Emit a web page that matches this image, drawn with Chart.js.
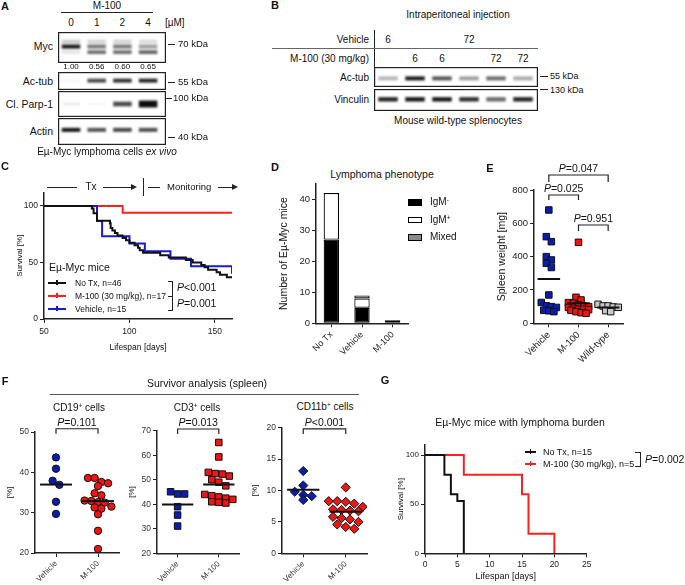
<!DOCTYPE html>
<html>
<head>
<meta charset="utf-8">
<script src="https://cdn.jsdelivr.net/npm/chart.js@4.4.1/dist/chart.umd.min.js"></script>
<style>
  body { margin: 0; background: #fff; }
  #fig { position: relative; width: 685px; height: 585px; overflow: hidden; font-family: 'Liberation Sans', Arial, sans-serif; color: #111; }
  #fig canvas { position: absolute; }
  .t { position: absolute; white-space: nowrap; line-height: 1; }
  .r { position: absolute; background: #222; }
  sup { font-size: 0.65em; vertical-align: 0.5em; line-height: 0; }
</style>
</head>
<body>
<div id="fig"></div>
<script>
// ---- A: blot, M-100 dose series (band intensity 0..1) ----
const doseLabels = ['0', '1', '2', '4'];
const mycRatio = ['1.00', '0.56', '0.60', '0.65'];
const mycUpper = [0.22, 0.18, 0.18, 0.15];
const mycMain = [0.95, 0.55, 0.55, 0.4];
const mycLower = [0.1, 0.6, 0.6, 0.65];
const acTubA = [0.03, 0.75, 0.85, 0.9];
const parpA = [0.1, 0.05, 0.75, 1.0];
const actinA = [0.95, 0.7, 0.75, 0.72];

// ---- B: blot, splenocytes ----
const hoursVehicle = ['6', '', '', '72', '', ''];
const hoursM100 = ['', '6', '6', '', '72', '72'];
const acTubB = [0.3, 0.95, 0.7, 0.4, 0.6, 0.35];
const vinculinB = [0.9, 0.95, 0.95, 0.85, 0.6, 0.9];

// ---- C: Kaplan-Meier, days / survival % ----
const noTxDays = [50, 78, 79, 81, 88.6, 89, 90, 91.5, 93, 96, 98, 100, 103, 105, 106, 108, 118, 123, 133, 137, 142, 144, 146, 151, 153, 157, 160];
const noTxSurv = [100, 97.8, 93.5, 87.0, 84.8, 80.4, 78.3, 76.1, 73.9, 71.7, 69.6, 67.4, 65.2, 63.0, 60.9, 58.7, 56.5, 54.3, 52.2, 50.0, 47.8, 45.7, 43.5, 41.3, 39.1, 37.0, 37.0];
const vehDays = [50, 81, 84, 100, 109, 124, 136, 160, 160];
const vehSurv = [100, 86.7, 73.3, 66.7, 60, 53.3, 46.7, 46.7, 40];
const m100Days = [50, 96, 160];
const m100Surv = [100, 94.1, 94.1];
const survTicksC = [0, 50, 100];
const daysTicksC = [50, 100, 150];

// ---- D: lymphoma phenotype counts ----
const phenoGroups = ['No Tx', 'Vehicle', 'M-100'];
const igmNeg = [27, 5, 1];
const igmPos = [15, 3, 0];
const mixed = [0, 1, 0];
const countTicks = [0, 10, 20, 30, 40];

// ---- E: spleen weight [mg] ----
const spleenGroups = ['Vehicle', 'M-100', 'Wild-type'];
const spleenVehicle = [680, 520, 490, 400, 380, 360, 335, 170, 125, 105, 100, 95, 78, 75, 70];
const spleenM100 = [486, 156, 140, 124, 120, 110, 104, 100, 95, 90, 84, 84, 82, 78, 70, 64, 60];
const spleenWT = [114, 104, 104, 98, 96, 76, 70];
const weightTicks = [0, 200, 400, 600, 800];

// ---- F: survivor analysis [%] ----
const cellGroups = ['Vehicle', 'M-100'];
const cd19Vehicle = [43.7, 40.9, 37.9, 36.9, 32.7, 29.7];
const cd19M100 = [38.6, 38.6, 37.6, 37.3, 36.6, 34.8, 34.3, 33.0, 32.9, 32.6, 32.5, 31.5, 31.3, 31.0, 29.6, 25.5, 21.0];
const cd3Vehicle = [45.1, 44.2, 44.2, 39.0, 35.6, 31.1];
const cd3M100 = [65.2, 59.3, 53.0, 52.5, 52.3, 51.5, 50.0, 49.0, 47.5, 44.0, 43.5, 43.0, 42.5, 42.0, 41.0, 40.8, 40.5];
const cd11bVehicle = [13.1, 10.8, 9.8, 9.3, 9.1, 8.5];
const cd11bM100 = [10.5, 8.3, 8.3, 8.2, 7.9, 7.4, 7.0, 6.9, 6.8, 6.7, 5.8, 5.6, 5.4, 5.0, 4.6, 4.2, 3.9];
const cd19Ticks = [20, 30, 40, 50];
const cd3Ticks = [20, 30, 40, 50, 60, 70];
const cd11bTicks = [0, 5, 10, 15, 20];

// ---- G: mice with lymphoma burden ----
const burdenNoTxDays = [0, 3, 4, 5, 6];
const burdenNoTxSurv = [100, 80, 60, 53.3, 0];
const burdenM100Days = [0, 6, 15, 16, 20];
const burdenM100Surv = [100, 80, 60, 20, 0];
const survTicksG = [0, 50, 100];
const daysTicksG = [0, 5, 10, 15, 20, 25];

const FONT = "'Liberation Sans', Arial, sans-serif";
const BLUE = '#0b1db0', RED = '#f01414', KMBLUE = '#1a1ad6', KMRED = '#ff1f1f';
Chart.defaults.font.family = FONT;
Chart.defaults.color = '#222';
Chart.defaults.animation = false;

const fig = document.getElementById('fig');

function canvasAt(left, top, w, h) {
  const c = document.createElement('canvas');
  c.width = w; c.height = h;
  c.style.left = left + 'px'; c.style.top = top + 'px';
  c.style.width = w + 'px'; c.style.height = h + 'px';
  fig.appendChild(c);
  return c.getContext('2d');
}

function text(x, y, html, o = {}) {
  const d = document.createElement('div');
  d.className = 't';
  d.innerHTML = html;
  const tx = o.align === 'r' ? '-100%' : o.align === 'l' ? '0' : '-50%';
  d.style.left = x + 'px';
  d.style.top = y + 'px';
  d.style.fontSize = (o.size || 10) + 'px';
  if (o.bold) d.style.fontWeight = 'bold';
  if (o.color) d.style.color = o.color;
  d.style.transform = `translate(${tx},-50%)`;
  fig.appendChild(d);
}

function rule(x, y, w, h, color) {
  const d = document.createElement('div');
  d.className = 'r';
  d.style.cssText = `left:${x}px;top:${y}px;width:${w}px;height:${h}px;` + (color ? `background:${color};` : '');
  fig.appendChild(d);
  return d;
}

function arrowHead(x, y) {
  const d = document.createElement('div');
  d.style.cssText = `position:absolute;left:${x - 6}px;top:${y - 3}px;width:0;height:0;border-left:6px solid #222;border-top:3px solid transparent;border-bottom:3px solid transparent;`;
  fig.appendChild(d);
}

function legendLine(x1, x2, y, color) {
  rule(x1, y - 1, x2 - x1, 2, color);
  rule((x1 + x2) / 2 - 0.75, y - 3, 1.5, 5, color);
}

// axis with a fixed box size so the plot area lands where the figure has it
function axis(o) {
  const a = {
    type: o.type || 'linear',
    afterFit: s => { if (s.isHorizontal()) s.height = o.size; else s.width = o.size; },
    grid: { drawOnChartArea: false, drawTicks: true, tickLength: 4, color: '#222', lineWidth: 1, offset: false },
    border: { color: '#222', width: 1.5 },
    ticks: { padding: o.pad ?? 2, color: o.color || '#222', font: { size: o.fs || 9 }, autoSkip: false, maxRotation: o.rot || 0, minRotation: o.rot || 0 }
  };
  if (o.min !== undefined) a.min = o.min;
  if (o.max !== undefined) a.max = o.max;
  if (o.ticks) a.afterBuildTicks = s => { s.ticks = o.ticks.map(v => ({ value: v })); };
  if (o.labels) a.ticks.callback = v => o.labels[v];
  if (o.hideLabels) a.ticks.display = false;
  if (o.title) a.title = { display: true, text: o.title, color: '#111', font: { size: o.tfs || 9 }, padding: o.tpad };
  return a;
}

const baseOpts = {
  responsive: false, animation: false, devicePixelRatio: 1,
  plugins: { legend: { display: false }, tooltip: { enabled: false } }
};

// blot helpers
const soften = {
  id: 'soften',
  beforeDatasetsDraw(c) { c.ctx.save(); c.ctx.filter = 'blur(0.8px)'; },
  afterDatasetsDraw(c) { c.ctx.restore(); }
};
const frame = {
  id: 'frame',
  afterDraw(c) {
    const g = c.ctx;
    g.save(); g.strokeStyle = '#222'; g.lineWidth = 1.2;
    g.strokeRect(0.6, 0.6, c.width - 1.2, c.height - 1.2);
    g.restore();
  }
};

// lanes on a category axis; first = centre of lane 0 in px, gap = lane spacing in px
function blot(left, top, w, h, first, gap, lanes, bands) {
  const padL = first - gap / 2;
  const padR = w - padL - lanes.length * gap;
  new Chart(canvasAt(left, top, w, h), {
    type: 'bar',
    data: {
      labels: lanes,
      datasets: bands.map(b => ({
        data: b.vals.map(v => {
          const half = b.half * (b.grow ? 0.6 + 1.6 * v * v : 1);
          return [b.at - half, b.at + half];
        }),
        backgroundColor: b.vals.map(v => `rgba(12,12,12,${v})`),
        grouped: false, barPercentage: 0.72, categoryPercentage: 1, borderWidth: 0
      }))
    },
    options: {
      ...baseOpts,
      layout: { padding: { left: padL, right: padR, top: 0, bottom: 0 } },
      scales: {
        x: { type: 'category', display: false, offset: true },
        y: { display: false, min: 0, max: 1, reverse: true }
      }
    },
    plugins: [soften, frame]
  });
}

// ---------------- Panel A ----------------
const laneA = i => 71 + 25.7 * i;
text(5, 6, 'A', { bold: true, size: 11 });
text(107, 6, 'M-100', { size: 10 });
rule(61, 12, 92, 1);
doseLabels.forEach((d, i) => text(laneA(i), 23, d, { size: 10 }));
text(165, 23, '[µM]', { size: 10, align: 'l' });

blot(58, 32, 108, 31, 13, 25.7, doseLabels, [
  { vals: mycUpper, at: 0.31, half: 0.06 },
  { vals: mycMain, at: 0.47, half: 0.065 },
  { vals: mycLower, at: 0.65, half: 0.06 }
]);
blot(58, 72, 108, 18, 13, 25.7, doseLabels, [{ vals: acTubA, at: 0.48, half: 0.11 }]);
blot(58, 91, 108, 26, 13, 25.7, doseLabels, [{ vals: parpA, at: 0.5, half: 0.06, grow: true }]);
blot(58, 118, 108, 27, 13, 25.7, doseLabels, [{ vals: actinA, at: 0.44, half: 0.075 }]);

text(53, 46, 'Myc', { size: 10.5, align: 'r' });
text(53, 81, 'Ac-tub', { size: 10.5, align: 'r' });
text(53, 104, 'Cl. Parp-1', { size: 10.5, align: 'r' });
text(53, 131, 'Actin', { size: 10.5, align: 'r' });
mycRatio.forEach((r, i) => text(laneA(i), 67, r, { size: 8 }));
[[44, '70 kDa'], [82, '55 kDa'], [137, '40 kDa']].forEach(([y, s]) => {
  rule(168, y, 7, 1.2);
  text(178, y, s, { size: 9.5, align: 'l' });
});
rule(166, 98, 6, 1.2);
text(173, 98, '100 kDa', { size: 9.5, align: 'l' });
text(107, 152, 'Eµ-Myc lymphoma cells <i>ex vivo</i>', { size: 10 });

// ---------------- Panel B ----------------
const laneB = i => 388 + 27 * i;
const lanesB = hoursVehicle.map((h, i) => 'lane' + i);
text(275, 5, 'B', { bold: true, size: 11 });
text(458, 15, 'Intraperitoneal injection', { size: 10 });
rule(373.5, 30, 1.2, 37);
rule(272, 48, 266, 1.2, '#666');
text(369, 40, 'Vehicle', { size: 10, align: 'r' });
text(369, 59, 'M-100 (30 mg/kg)', { size: 10, align: 'r' });
hoursVehicle.forEach((h, i) => { if (h) text(laneB(i), 40, h, { size: 10 }); });
hoursM100.forEach((h, i) => { if (h) text(laneB(i), 59, h, { size: 10 }); });
blot(374, 67, 164, 20, 14, 27, lanesB, [{ vals: acTubB, at: 0.57, half: 0.1 }]);
blot(374, 89, 164, 22, 14, 27, lanesB, [{ vals: vinculinB, at: 0.47, half: 0.1 }]);
text(369, 78, 'Ac-tub', { size: 10, align: 'r' });
text(369, 100, 'Vinculin', { size: 10, align: 'r' });
rule(540, 76, 8, 1.2);
text(550, 76, '55 kDa', { size: 9, align: 'l' });
rule(540, 89, 8, 1.2);
text(550, 90, '130 kDa', { size: 9, align: 'l' });
text(458, 121, 'Mouse wild-type splenocytes', { size: 10 });

// ---------------- Panel C ----------------
text(5, 166, 'C', { bold: true, size: 11 });
rule(47, 186.5, 30, 1.2);
text(91, 187, 'Tx', { size: 10 });
rule(103, 186.5, 30, 1.2);
arrowHead(137, 187);
rule(143, 178, 1.2, 18);
rule(148, 186.5, 12, 1.2);
text(167, 187, 'Monitoring', { size: 9.5, align: 'l' });
rule(218, 186.5, 14, 1.2);
arrowHead(238, 187);

function kmSet(xs, ys, color, order) {
  return { data: xs.map((x, i) => ({ x, y: ys[i] })), borderColor: color, borderWidth: 2, stepped: true, pointRadius: 0, fill: false, order };
}

new Chart(canvasAt(0, 180, 240, 180), {
  type: 'line',
  data: { datasets: [kmSet(noTxDays, noTxSurv, '#111', 0), kmSet(vehDays, vehSurv, KMBLUE, 1), kmSet(m100Days, m100Surv, KMRED, 2)] },
  options: {
    ...baseOpts,
    layout: { padding: { top: 12.4, right: 8, left: 0, bottom: 0 } },
    scales: {
      x: axis({ min: 50, max: 160, ticks: daysTicksC, size: 41, fs: 8.5, pad: 4, title: 'Lifespan [days]', tfs: 8.5, tpad: { top: 0, bottom: 6.9 } }),
      y: axis({ min: 0, max: 112, ticks: survTicksC, size: 44, fs: 8.5, title: 'Survival [%]', tfs: 8, tpad: { top: 15.2, bottom: 0 } })
    }
  }
});
text(49, 267, 'Eµ-Myc mice', { size: 10.5, align: 'l' });
legendLine(48, 66, 283, '#111');
legendLine(48, 66, 296, KMRED);
legendLine(48, 66, 309, KMBLUE);
text(75, 283, 'No Tx, n=46', { size: 8.5, align: 'l' });
text(75, 296, 'M-100 (30 mg/kg), n=17', { size: 8.5, align: 'l' });
text(75, 309, 'Vehicle, n=15', { size: 8.5, align: 'l' });
rule(168, 280.5, 5, 1.2);
rule(172, 280.5, 1.2, 30);
rule(168, 309.5, 5, 1.2);
rule(168, 295.5, 5, 1.2);
text(177, 287, '<i>P</i>&lt;0.001', { size: 10.5, align: 'l' });
text(177, 303, '<i>P</i>=0.001', { size: 10.5, align: 'l' });

// ---------------- Panel D ----------------
// stacked segments as floating bars: each segment starts where the previous one ends
text(275, 167, 'D', { bold: true, size: 11 });
text(382, 174, 'Lymphoma phenotype', { size: 10.5 });
const stackBase = phenoGroups.map(() => 0);
const phenoSets = [[igmNeg, '#000'], [igmPos, '#fff'], [mixed, '#8a8a8a']].map(([vals, color]) => ({
  data: vals.map((v, i) => {
    const lo = stackBase[i];
    stackBase[i] += v;
    return v ? [lo, lo + v] : null;
  }),
  backgroundColor: color, borderColor: '#000', borderWidth: 1.2, borderSkipped: false,
  grouped: false, barPercentage: 0.5, categoryPercentage: 1
}));
const dLeft = 240, dTop = 175;
const phenoChart = new Chart(canvasAt(dLeft, dTop, 180, 198), {
  type: 'bar',
  data: { labels: phenoGroups, datasets: phenoSets },
  options: {
    ...baseOpts,
    layout: { padding: { top: 8.8, right: 12, left: 0, bottom: 0 } },
    scales: {
      x: axis({ type: 'category', size: 49.7, fs: 9, rot: 45 }),
      y: axis({ min: 0, max: 45, ticks: countTicks, size: 76, fs: 9.5, hideLabels: true, title: 'Number of Eµ-Myc mice', tfs: 10.5, tpad: { top: 37.7, bottom: 0 } })
    }
  }
});
// count tick labels placed from the chart's own y scale
const countScale = phenoChart.scales.y;
countScale.ticks.forEach(t => {
  text(dLeft + countScale.right - 6, dTop + countScale.getPixelForValue(t.value), String(t.value), { size: 9.5, align: 'r', color: '#222' });
});
[['#000', 'IgM<sup>-</sup>'], ['#fff', 'IgM<sup>+</sup>'], ['#8a8a8a', 'Mixed']].forEach(([c, s], i) => {
  const y = 202 + 17.5 * i;
  const d = rule(408, y - 3, 12, 4.5, c);
  d.style.border = '1.2px solid #000';
  text(430, y, s, { size: 10, align: 'l' });
});

// ---------------- dot plots (E, F) ----------------
// rows of near-equal values are spread sideways, centred on the group
function swarm(values, center, gap, step, perRow) {
  const sorted = [...values].sort((a, b) => b - a);
  const rows = [];
  sorted.forEach(v => {
    const row = rows[rows.length - 1];
    if (row && row[0] - v < gap && row.length < perRow) row.push(v);
    else rows.push([v]);
  });
  const pts = [];
  rows.forEach(row => row.forEach((v, j) => pts.push({ x: center + (j - (row.length - 1) / 2) * step, y: v })));
  return pts;
}

function pLabel(ctx, label, cx, cy, size) {
  const rest = label.slice(1);
  ctx.font = `italic ${size}px ${FONT}`;
  const w1 = ctx.measureText('P').width;
  ctx.font = `${size}px ${FONT}`;
  const w2 = ctx.measureText(rest).width;
  const x = cx - (w1 + w2) / 2;
  ctx.textBaseline = 'middle'; ctx.textAlign = 'left'; ctx.fillStyle = '#111';
  ctx.font = `italic ${size}px ${FONT}`;
  ctx.fillText('P', x, cy);
  ctx.font = `${size}px ${FONT}`;
  ctx.fillText(rest, x + w1, cy);
}

function bracketPlugin(items) {
  return {
    id: 'brackets',
    afterDraw(chart) {
      const { ctx, scales: { x, y } } = chart;
      items.forEach(b => {
        const x1 = x.getPixelForValue(b.from), x2 = x.getPixelForValue(b.to), yp = y.getPixelForValue(b.y);
        ctx.save();
        ctx.strokeStyle = '#222'; ctx.lineWidth = 1.2;
        ctx.beginPath();
        ctx.moveTo(x1, yp + b.drop); ctx.lineTo(x1, yp); ctx.lineTo(x2, yp); ctx.lineTo(x2, yp + b.drop);
        ctx.stroke();
        pLabel(ctx, b.label, (x1 + x2) / 2, yp - 6, 10.5);
        ctx.restore();
      });
    }
  };
}

function dotPlot(ctx, c) {
  const datasets = [];
  c.series.forEach((s, i) => {
    datasets.push({
      data: swarm(s.values, i, c.gap, c.step, c.perRow),
      backgroundColor: s.color, borderColor: '#111', borderWidth: 1,
      pointStyle: c.pointStyle, pointRadius: c.radius, order: 1
    });
    const m = s.values.reduce((a, b) => a + b, 0) / s.values.length;
    datasets.push({
      data: [{ x: i - 0.38, y: m }, { x: i + 0.38, y: m }],
      showLine: true, borderColor: '#111', borderWidth: 2, pointRadius: 0, order: 0
    });
  });
  new Chart(ctx, {
    type: 'scatter',
    data: { datasets },
    options: {
      ...baseOpts,
      layout: { padding: { top: c.padT, right: c.padR, left: 0, bottom: 0 } },
      scales: {
        x: axis({ min: -0.5, max: c.groups.length - 0.5, ticks: c.groups.map((g, i) => i), labels: c.groups, size: c.xH, fs: c.xfs, rot: 45, color: c.color }),
        y: axis({ min: c.yMin, max: c.yMax, ticks: c.yTicks, size: c.yW, fs: c.yfs, color: c.color, title: c.yTitle, tfs: c.tfs, tpad: { top: c.tpad, bottom: 0 } })
      }
    },
    plugins: [bracketPlugin(c.brackets)]
  });
}

// ---------------- Panel E ----------------
text(490, 168, 'E', { bold: true, size: 11 });
dotPlot(canvasAt(460, 160, 180, 213), {
  groups: spleenGroups,
  series: [{ values: spleenVehicle, color: BLUE }, { values: spleenM100, color: RED }, { values: spleenWT, color: '#c8c8c8' }],
  pointStyle: 'rect', radius: 4.6, gap: 32, step: 0.17, perRow: 5,
  yMin: 0, yMax: 800, yTicks: weightTicks,
  padT: 30, padR: 17, yW: 74, xH: 49.7, xfs: 9.5, yfs: 9.5,
  yTitle: 'Spleen weight [mg]', tfs: 10.5, tpad: 35.7,
  brackets: [
    { from: 0, to: 1, y: 770, drop: 5, label: 'P=0.025' },
    { from: 0, to: 2, y: 890, drop: 7, label: 'P=0.047' },
    { from: 1, to: 2, y: 590, drop: 6, label: 'P=0.951' }
  ]
});

// ---------------- Panel F ----------------
text(5, 381, 'F', { bold: true, size: 11 });
text(207, 383, 'Survivor analysis (spleen)', { size: 10.5 });
rule(50, 393.5, 309, 1.5, '#555');
text(79, 408, 'CD19<sup>+</sup> cells', { size: 10 });
text(197, 408, 'CD3<sup>+</sup> cells', { size: 10 });
text(325, 407, 'CD11b<sup>+</sup> cells', { size: 10 });

dotPlot(canvasAt(0, 410, 125, 175), {
  groups: cellGroups,
  series: [{ values: cd19Vehicle, color: BLUE }, { values: cd19M100, color: RED }],
  pointStyle: 'circle', radius: 3.7, gap: 1.6, step: 0.16, perRow: 5,
  yMin: 20, yMax: 50, yTicks: cd19Ticks,
  padT: 22, padR: 6, yW: 35, xH: 32, xfs: 8, yfs: 8.5, color: '#333',
  yTitle: '[%]', tfs: 8, tpad: 5.2,
  brackets: [{ from: 0, to: 1, y: 50.8, drop: 5, label: 'P=0.101' }]
});
dotPlot(canvasAt(125, 410, 120, 175), {
  groups: cellGroups,
  series: [{ values: cd3Vehicle, color: BLUE }, { values: cd3M100, color: RED }],
  pointStyle: 'rect', radius: 4.6, gap: 2.6, step: 0.17, perRow: 5,
  yMin: 20, yMax: 70, yTicks: cd3Ticks,
  padT: 20.7, padR: 3, yW: 32, xH: 31.7, xfs: 8, yfs: 8.5, color: '#333',
  yTitle: '[%]', tfs: 8, tpad: 2.2,
  brackets: [{ from: 0, to: 1, y: 70.7, drop: 5, label: 'P=0.013' }]
});
dotPlot(canvasAt(245, 410, 130, 175), {
  groups: cellGroups,
  series: [{ values: cd11bVehicle, color: BLUE }, { values: cd11bM100, color: RED }],
  pointStyle: 'rectRot', radius: 4.6, gap: 1.0, step: 0.2, perRow: 5,
  yMin: 0, yMax: 20, yTicks: cd11bTicks,
  padT: 17.7, padR: 8, yW: 37, xH: 31.7, xfs: 8, yfs: 8.5, color: '#333',
  yTitle: '[%]', tfs: 8, tpad: 5.2,
  brackets: [{ from: 0, to: 1, y: 19.8, drop: 5, label: 'P<0.001' }]
});

// ---------------- Panel G ----------------
text(385, 380, 'G', { bold: true, size: 11 });
text(520, 422, 'Eµ-Myc mice with lymphoma burden', { size: 10.5 });
new Chart(canvasAt(380, 430, 220, 155), {
  type: 'line',
  data: { datasets: [kmSet(burdenNoTxDays, burdenNoTxSurv, '#111', 0), kmSet(burdenM100Days, burdenM100Surv, KMRED, 1)] },
  options: {
    ...baseOpts,
    layout: { padding: { top: 15.2, right: 13.3, left: 0, bottom: 0 } },
    scales: {
      x: axis({ min: 0, max: 25, ticks: daysTicksG, size: 31.7, fs: 8.5, title: 'Lifespan [days]', tfs: 9, tpad: { top: 0, bottom: 2.6 } }),
      y: axis({ min: 0, max: 110, ticks: survTicksG, size: 45, fs: 8, title: 'Survival [%]', tfs: 8, tpad: { top: 16.2, bottom: 0 } })
    }
  }
});
legendLine(525, 536, 452, '#111');
legendLine(525, 536, 464, KMRED);
text(543, 452, 'No Tx, n=15', { size: 9, align: 'l' });
text(543, 464, 'M-100 (30 mg/kg), n=5', { size: 9, align: 'l' });
rule(635, 451.5, 5, 1.2);
rule(639.5, 451.5, 1.2, 15);
rule(635, 465.5, 5, 1.2);
text(645, 459, '<i>P</i>=0.002', { size: 10.5, align: 'l' });
</script>
</body>
</html>
